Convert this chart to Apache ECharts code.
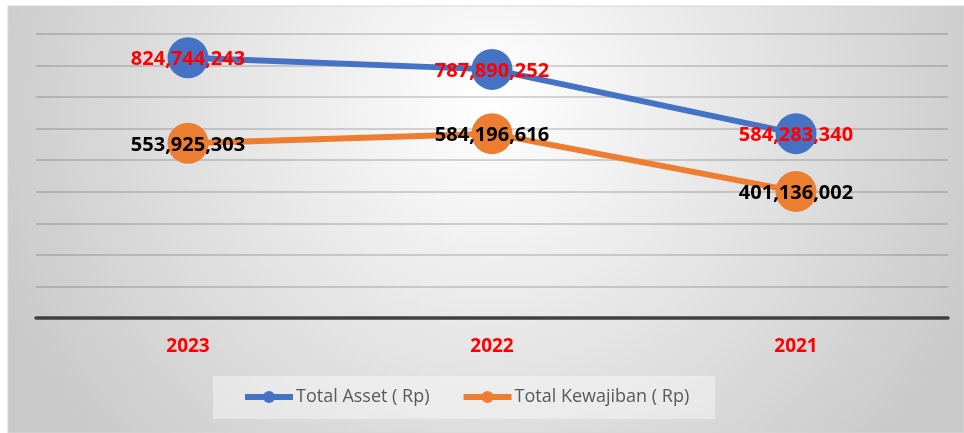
<!DOCTYPE html>
<html>
<head>
<meta charset="utf-8">
<script src="https://cdn.jsdelivr.net/npm/echarts@6/dist/echarts.min.js"></script>
<style>
html,body{margin:0;padding:0;background:#ffffff;}
#chart{width:964px;height:433px;}
</style>
</head>
<body>
<div id="chart"></div>
<script>
const categories = ['2023', '2022', '2021'];
const totalAsset = [824744243, 787890252, 584283340];
const totalKewajiban = [553925303, 584196616, 401136002];
const seriesNames = ['Total Asset ( Rp)', 'Total Kewajiban ( Rp)'];

const chart = echarts.init(document.getElementById('chart'));
const fmt = v => Number(v).toLocaleString('en-US');

const option = {
  animation: false,
  graphic: [{
    type: 'rect',
    z: -10,
    silent: true,
    shape: { x: 8, y: 6, width: 956, height: 427 },
    style: {
      fill: {
        type: 'radial', x: 490, y: 100, r: 530, global: true,
        colorStops: [{ offset: 0, color: '#ffffff' }, { offset: 1, color: '#c9c9c9' }]
      },
      stroke: '#d6d6d6',
      lineWidth: 1
    }
  }],
  grid: { left: 36, right: 16, top: 34, bottom: 115, containLabel: false },
  legend: {
    data: seriesNames,
    left: 213,
    top: 376,
    padding: [12, 26, 13, 29],
    itemGap: 31,
    itemWidth: 48,
    itemHeight: 15,
    lineStyle: { width: 6 },
    backgroundColor: 'rgba(255,255,255,0.4)',
    textStyle: { fontFamily: 'Open Sans', fontSize: 18, color: '#595959', padding: [0, 0, 0, -2] }
  },
  xAxis: {
    type: 'category',
    data: categories,
    boundaryGap: true,
    axisLine: { show: true, lineStyle: { color: '#404040', width: 3.5 } },
    axisTick: { show: false },
    axisLabel: { color: '#ff0000', fontFamily: 'Open Sans', fontWeight: 'bold', fontSize: 19, margin: 19 },
    splitLine: { show: false }
  },
  yAxis: {
    type: 'value',
    min: 0,
    max: 900000000,
    interval: 100000000,
    axisLine: { show: false },
    axisTick: { show: false },
    axisLabel: { show: false },
    splitLine: { show: true, lineStyle: { color: 'rgba(0,0,0,0.2)', width: 1.5 } }
  },
  series: [
    {
      name: seriesNames[0],
      type: 'line',
      data: totalAsset,
      symbol: 'circle',
      symbolSize: 41,
      itemStyle: { color: '#4472c4' },
      lineStyle: { color: '#4472c4', width: 6 },
      label: {
        show: true, position: 'inside', offset: [0, 2],
        formatter: p => fmt(p.value),
        color: '#ff0000', fontFamily: 'Open Sans', fontWeight: 'bold', fontSize: 20
      },
      z: 3
    },
    {
      name: seriesNames[1],
      type: 'line',
      data: totalKewajiban,
      symbol: 'circle',
      symbolSize: 41,
      itemStyle: { color: '#ed7d31' },
      lineStyle: { color: '#ed7d31', width: 6 },
      label: {
        show: true, position: 'inside', offset: [0, 2],
        formatter: p => fmt(p.value),
        color: '#000000', fontFamily: 'Open Sans', fontWeight: 'bold', fontSize: 20
      },
      z: 3
    }
  ]
};
chart.setOption(option);
</script>
</body>
</html>
